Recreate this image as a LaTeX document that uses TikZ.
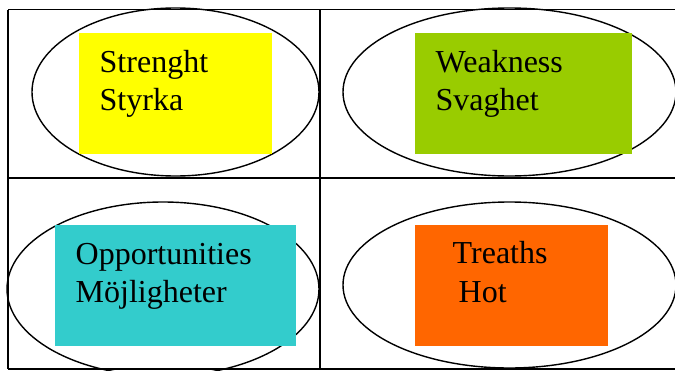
\documentclass[tikz,border=0pt]{standalone}
\usepackage{fontspec}
\setmainfont{Liberation Serif}
\usetikzlibrary{shapes.geometric}
\definecolor{swotyellow}{HTML}{FFFF00}
\definecolor{swotgreen}{HTML}{99CC00}
\definecolor{swotcyan}{HTML}{33CCCC}
\definecolor{swotorange}{HTML}{FF6600}
\tikzset{
  oval/.style={ellipse, draw=black, line width=1.4pt, inner sep=0pt, outer sep=0pt},
  card/.style={rectangle, draw=none, inner sep=0pt, outer sep=0pt, anchor=north west},
  word/.style={anchor=base west, inner sep=0pt, font=\fontsize{32}{38}\selectfont},
  grid/.style={line width=1.4pt, black}
}
\begin{document}
\begin{tikzpicture}[x=1pt, y=-1pt]
  \useasboundingbox (0,0) rectangle (675,370);
  \clip (0,0) rectangle (675,370);
  \fill[white] (0,0) rectangle (675,370);

  % table frame
  \draw[grid] (8,9.5) -- (680,9.5);
  \draw[grid] (8,178) -- (680,178);
  \draw[grid] (8,369) -- (680,369);
  \draw[grid] (8,9.5) -- (8,369);
  \draw[grid] (320,9.5) -- (320,369);

  % ovals
  \node[oval, minimum width=287pt, minimum height=168pt] (e1) at (175.5,92) {};
  \node[oval, minimum width=333pt, minimum height=168pt] (e2) at (509.5,92) {};
  \node[oval, minimum width=312pt, minimum height=174pt] (e3) at (163,289) {};
  \node[oval, minimum width=333pt, minimum height=166pt] (e4) at (509.5,285) {};

  % coloured cards
  \node[card, fill=swotyellow, minimum width=193pt, minimum height=121pt] (r1) at (79,33) {};
  \node[card, fill=swotgreen,  minimum width=217pt, minimum height=121pt] (r2) at (415,33) {};
  \node[card, fill=swotcyan,   minimum width=241pt, minimum height=121pt] (r3) at (55,225) {};
  \node[card, fill=swotorange, minimum width=193pt, minimum height=121pt] (r4) at (415,225) {};

  % labels
  \node[word] (t1a) at (99.5,72) {Strenght};
  \node[word] (t1b) at (99.5,110) {Styrka};
  \node[word] (t2a) at (435.5,72) {Weakness};
  \node[word] (t2b) at (435.5,110) {Svaghet};
  \node[word] (t3a) at (75.5,264) {Opportunities};
  \node[word] (t3b) at (75.5,302) {Möjligheter};
  \node[word] (t4a) at (452.5,263) {Treaths};
  \node[word] (t4b) at (458.5,302) {Hot};
\end{tikzpicture}
\end{document}
